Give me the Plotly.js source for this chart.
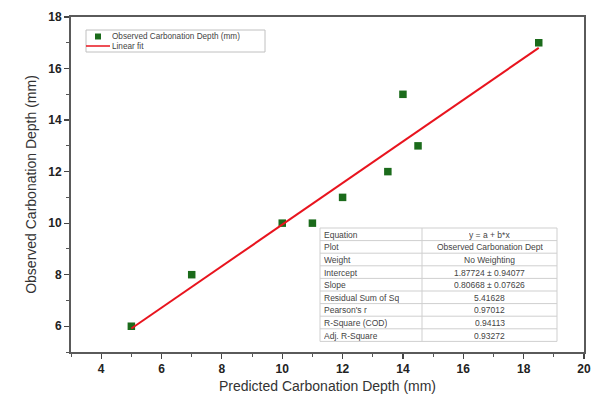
<!DOCTYPE html>
<html>
<head>
<meta charset="utf-8">
<script src="https://cdn.plot.ly/plotly-3.0.1.min.js"></script>
<style>html,body{margin:0;padding:0;background:#fff;}#chart{width:596px;height:401px;}</style>
</head>
<body>
<div id="chart"></div>
<script>
const predicted = [5, 7, 10, 11, 12, 13.5, 14, 14.5, 18.5];
const observed = [6, 8, 10, 10, 11, 12, 15, 13, 17];
const fitX = [5, 18.5];
const fitY = [5.91064, 16.80082];
const seriesNames = ["Observed Carbonation Depth (mm)", "Linear fit"];
const statNames = ["Equation", "Plot", "Weight", "Intercept", "Slope", "Residual Sum of Sq", "Pearson's r", "R-Square (COD)", "Adj. R-Square"];
const statValues = ["y = a + b*x", "Observed Carbonation Dept", "No Weighting", "1.87724 ± 0.94077", "0.80668 ± 0.07626", "5.41628", "0.97012", "0.94113", "0.93272"];

const W = 596, H = 401;
const m = {l: 71, r: 12, t: 17, b: 49};
const pw = W - m.l - m.r, ph = H - m.t - m.b;
const px = v => (v - m.l) / pw;
const py = v => 1 - (v - m.t) / ph;

const GREEN = '#1b6b1b', RED = '#e8141e';
const FONT = 'Liberation Sans, Arial';

const traces = [
  {
    type: 'scatter', mode: 'markers', x: predicted, y: observed,
    name: seriesNames[0], showlegend: false,
    marker: {symbol: 'square', size: 7.5, color: GREEN}
  },
  {
    type: 'scatter', mode: 'lines', x: fitX, y: fitY,
    name: seriesNames[1], showlegend: false,
    line: {color: RED, width: 2}
  }
];

const shapes = [];
const annotations = [];

// Statistics table
const tbl = {x0: 320, xs: 422, x1: 557, y0: 228, rowH: 12.6};
const nRows = statNames.length;
const tBottom = tbl.y0 + tbl.rowH * nRows;
shapes.push({type: 'rect', xref: 'paper', yref: 'paper', x0: px(tbl.x0), x1: px(tbl.x1), y0: py(tBottom), y1: py(tbl.y0),
  fillcolor: '#fff', line: {color: '#cfcfcf', width: 1}, layer: 'above'});
shapes.push({type: 'line', xref: 'paper', yref: 'paper', x0: px(tbl.xs), x1: px(tbl.xs), y0: py(tBottom), y1: py(tbl.y0),
  line: {color: '#cfcfcf', width: 1}, layer: 'above'});
for (let i = 0; i < nRows; i++) {
  const top = tbl.y0 + i * tbl.rowH;
  if (i > 0) {
    shapes.push({type: 'line', xref: 'paper', yref: 'paper', x0: px(tbl.x0), x1: px(tbl.x1), y0: py(top), y1: py(top),
      line: {color: '#cfcfcf', width: 1}, layer: 'above'});
  }
  const cy = py(top + tbl.rowH / 2);
  annotations.push({xref: 'paper', yref: 'paper', x: px(tbl.x0 + 3), y: cy, xanchor: 'left', yanchor: 'middle',
    text: statNames[i], showarrow: false, borderpad: 0, height: 11, font: {family: FONT, size: 8.5, color: '#444'}});
  annotations.push({xref: 'paper', yref: 'paper', x: px((tbl.xs + tbl.x1) / 2), y: cy, xanchor: 'center', yanchor: 'middle',
    text: statValues[i], showarrow: false, borderpad: 0, height: 11, font: {family: FONT, size: 8.5, color: '#444'}});
}

// Legend box
const lg = {x0: 86, x1: 265, y0: 30, y1: 52, row1: 36.5, row2: 46};
shapes.push({type: 'rect', xref: 'paper', yref: 'paper', x0: px(lg.x0), x1: px(lg.x1), y0: py(lg.y1), y1: py(lg.y0),
  fillcolor: '#fff', line: {color: '#c0c0c0', width: 1}, layer: 'above'});
shapes.push({type: 'rect', xref: 'paper', yref: 'paper', x0: px(95), x1: px(101), y0: py(lg.row1 + 3), y1: py(lg.row1 - 3),
  fillcolor: GREEN, line: {width: 0}, layer: 'above'});
shapes.push({type: 'line', xref: 'paper', yref: 'paper', x0: px(86), x1: px(110), y0: py(lg.row2), y1: py(lg.row2),
  line: {color: RED, width: 1.5}, layer: 'above'});
annotations.push({xref: 'paper', yref: 'paper', x: px(111), y: py(lg.row1), xanchor: 'left', yanchor: 'middle',
  text: seriesNames[0], showarrow: false, borderpad: 0, height: 9, font: {family: FONT, size: 8.2, color: '#444'}});
annotations.push({xref: 'paper', yref: 'paper', x: px(111), y: py(lg.row2), xanchor: 'left', yanchor: 'middle',
  text: seriesNames[1], showarrow: false, borderpad: 0, height: 9, font: {family: FONT, size: 8.2, color: '#444'}});

const axisCommon = {
  showline: true, linecolor: '#5a5a5a', linewidth: 2, mirror: true,
  ticks: 'outside', ticklen: 5, tickwidth: 1.2, tickcolor: '#444',
  showgrid: false, zeroline: false,
  tickfont: {family: FONT, size: 12, color: '#222', weight: 'bold'},
  minor: {ticks: 'outside', ticklen: 3, tickwidth: 1, tickcolor: '#555', dtick: 1, showgrid: false}
};

const layout = {
  width: W, height: H,
  margin: m,
  paper_bgcolor: '#fff', plot_bgcolor: '#fff',
  showlegend: false,
  shapes: shapes,
  annotations: annotations,
  xaxis: Object.assign({}, axisCommon, {
    range: [3, 20], tick0: 4, dtick: 2,
    title: {text: 'Predicted Carbonation Depth (mm)', standoff: 6,
      font: {family: FONT, size: 14, color: '#333'}}
  }),
  yaxis: Object.assign({}, axisCommon, {
    range: [5, 18], tick0: 6, dtick: 2,
    title: {text: 'Observed Carbonation Depth (mm)', standoff: 8,
      font: {family: FONT, size: 14, color: '#333'}}
  })
};

Plotly.newPlot('chart', traces, layout, {displayModeBar: false, staticPlot: true});
</script>
</body>
</html>
